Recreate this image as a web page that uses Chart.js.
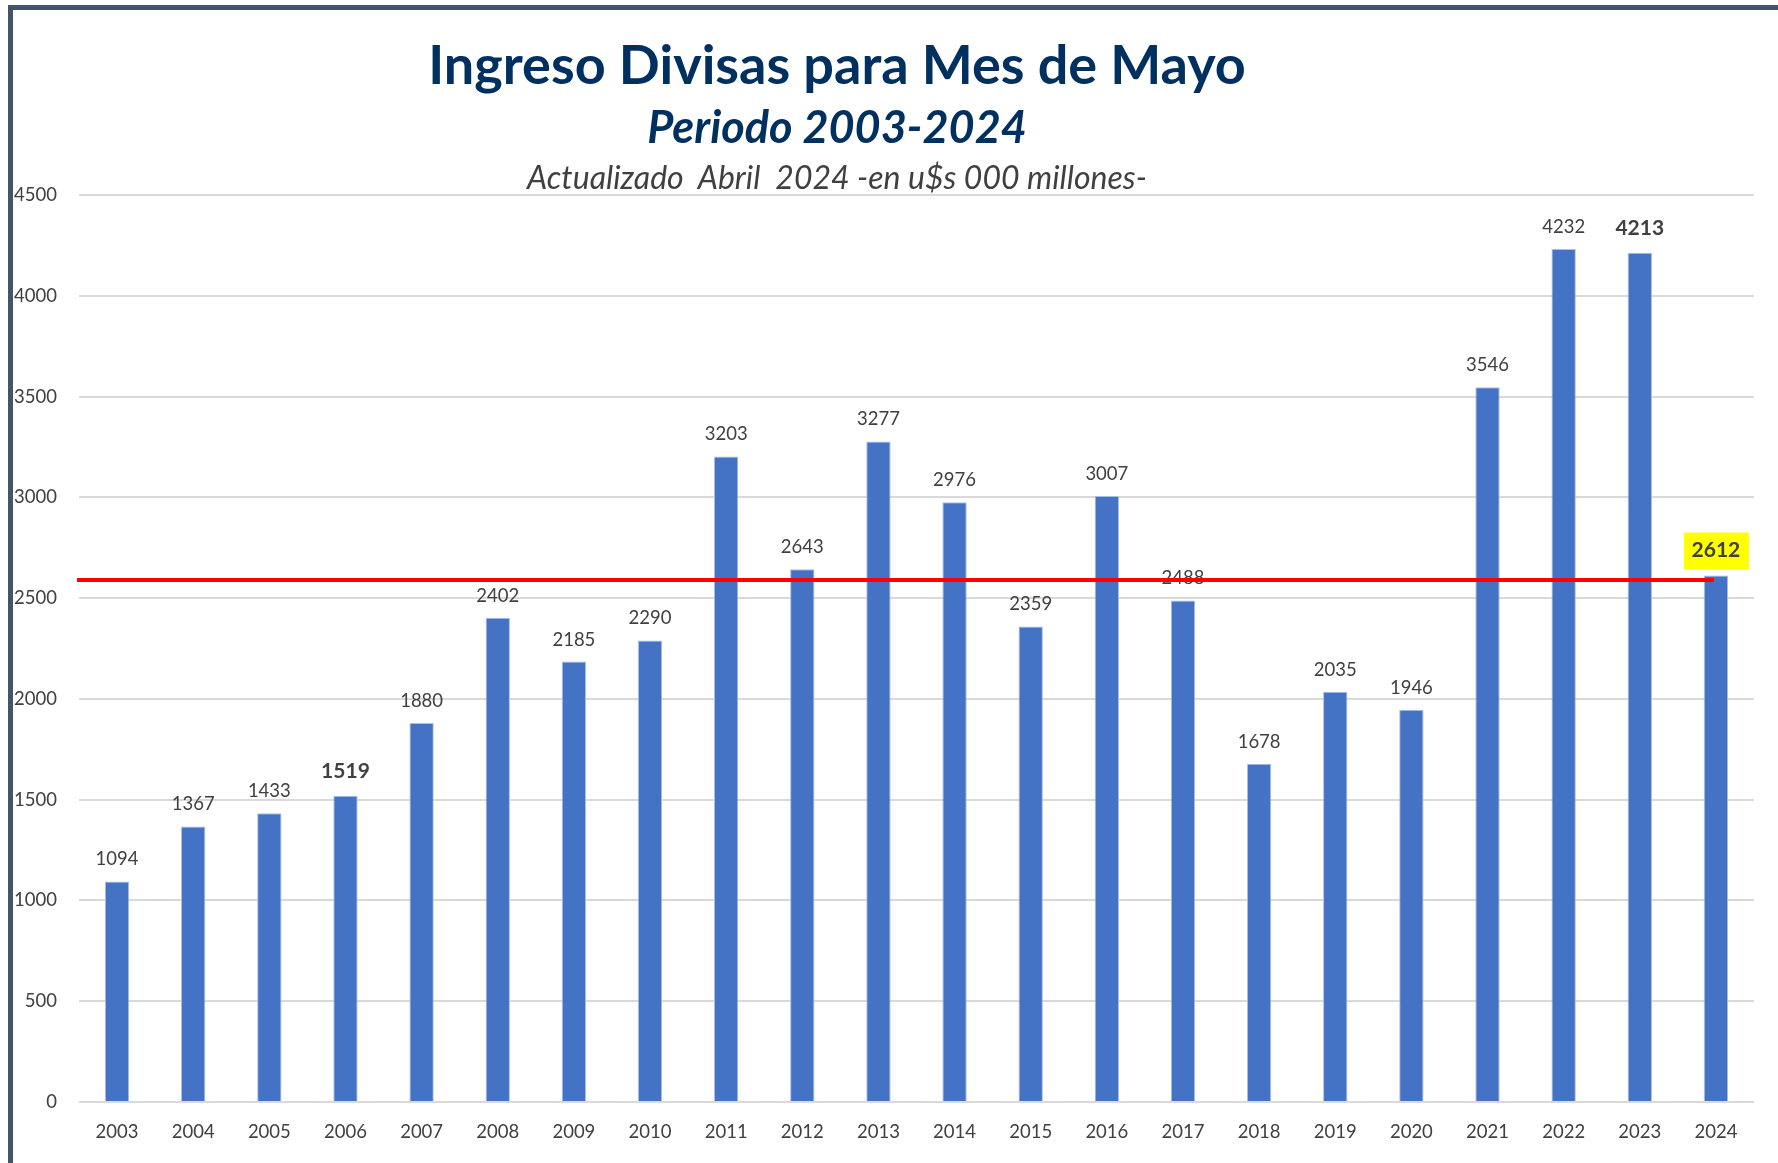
<!DOCTYPE html>
<html lang="es">
<head>
  <meta charset="UTF-8">
  <title>Ingreso Divisas para Mes de Mayo</title>
  <script src="https://cdn.jsdelivr.net/npm/chart.js"></script>
  <style>
    body {
      margin: 0;
      padding: 0;
      background: #ffffff;
      font-family: Lato, sans-serif;
    }
    .wrap {
      position: relative;
      width: 1778px;
      height: 1163px;
      overflow: hidden;
    }
    #chart {
      position: absolute;
      left: 0;
      top: 0;
    }
    .frame {
      position: absolute;
      left: 8px;
      top: 5px;
      right: 0;
      bottom: 0;
      border-top: 5px solid #44546A;
      border-left: 5px solid #44546A;
      pointer-events: none;
    }
    .t {
      position: absolute;
      left: 0;
      width: 1674px;
      text-align: center;
      line-height: 1;
      white-space: pre;
    }
    #titulo { top: 37px; font-size: 54px; font-weight: bold; color: #00305F; }
    #periodo { top: 104px; font-size: 45px; font-weight: bold; font-style: italic; color: #00305F; }
    #nota { top: 161px; font-size: 32px; font-style: italic; color: #404040; }
  </style>
</head>
<body>
  <div class="wrap">
    <canvas id="chart" width="1778" height="1163"></canvas>
    <div class="frame"></div>
    <div class="t" id="titulo">Ingreso Divisas para Mes de Mayo</div>
    <div class="t" id="periodo">Periodo 2003-2024</div>
    <div class="t" id="nota">Actualizado  Abril  2024 -en u$s 000 millones-</div>
  </div>

  <script>
    // datos
    const years = ['2003', '2004', '2005', '2006', '2007', '2008', '2009', '2010', '2011', '2012', '2013',
                   '2014', '2015', '2016', '2017', '2018', '2019', '2020', '2021', '2022', '2023', '2024'];
    const ingresos = [1094, 1367, 1433, 1519, 1880, 2402, 2185, 2290, 3203, 2643, 3277,
                      2976, 2359, 3007, 2488, 1678, 2035, 1946, 3546, 4232, 4213, 2612];
    const yMin = 0;
    const yMax = 4500;
    const yStep = 500;
    const lineaReferencia = 2590; // linea roja
    const etiquetasNegrita = ['2006', '2023', '2024'];
    const etiquetasResaltadas = ['2024'];

    const textColor = '#404040';

    // etiquetas de valor sobre cada barra
    const valueLabels = {
      id: 'valueLabels',
      afterDatasetsDraw(chart) {
        const ctx = chart.ctx;
        const meta = chart.getDatasetMeta(0);
        ctx.save();
        ctx.textAlign = 'center';
        ctx.textBaseline = 'middle';
        meta.data.forEach((bar, i) => {
          const year = years[i];
          const bold = etiquetasNegrita.includes(year);
          const text = String(ingresos[i]);
          const y = bar.y - (bold ? 25 : 22);
          ctx.font = bold ? 'bold 21px Lato' : '18.5px Lato';
          if (etiquetasResaltadas.includes(year)) {
            ctx.fillStyle = '#FFFF00';
            ctx.fillRect(bar.x - 32, y - 18, 65, 37);
          }
          ctx.fillStyle = textColor;
          ctx.fillText(text, bar.x, y);
        });
        ctx.restore();
      }
    };

    // linea roja horizontal de referencia
    const refLine = {
      id: 'refLine',
      afterDatasetsDraw(chart) {
        const { ctx, chartArea, scales } = chart;
        const y = scales.y.getPixelForValue(lineaReferencia);
        const xEnd = scales.x.getPixelForValue(years.length - 1);
        ctx.save();
        ctx.strokeStyle = '#FF0000';
        ctx.lineWidth = 4;
        ctx.beginPath();
        ctx.moveTo(chartArea.left - 2, y);
        ctx.lineTo(xEnd - 2, y);
        ctx.stroke();
        ctx.restore();
      }
    };

    const ctx = document.getElementById('chart').getContext('2d');
    new Chart(ctx, {
      type: 'bar',
      data: {
        labels: years,
        datasets: [{
          data: ingresos,
          backgroundColor: '#4472C4',
          borderColor: '#A9BFE6',
          borderWidth: 1,
          categoryPercentage: 1,
          barPercentage: 0.32
        }]
      },
      options: {
        responsive: false,
        animation: false,
        devicePixelRatio: 1,
        layout: {
          padding: { top: 195, right: 24, bottom: 0, left: 0 }
        },
        plugins: {
          legend: { display: false },
          title: { display: false },
          tooltip: { enabled: false }
        },
        scales: {
          x: {
            grid: { display: false },
            border: { display: false },
            ticks: {
              color: textColor,
              font: { family: 'Lato', size: 18.5 },
              padding: 11,
              maxRotation: 0
            },
            afterFit(scale) { scale.height = 61; }
          },
          y: {
            min: yMin,
            max: yMax,
            grid: {
              color: '#D9D9D9',
              lineWidth: 2,
              drawTicks: false
            },
            border: { display: false },
            ticks: {
              stepSize: yStep,
              color: textColor,
              font: { family: 'Lato', size: 18.5 },
              padding: 22,
              callback: (value) => String(value)
            },
            afterFit(scale) { scale.width = 79; }
          }
        }
      },
      plugins: [valueLabels, refLine]
    });
  </script>
</body>
</html>
